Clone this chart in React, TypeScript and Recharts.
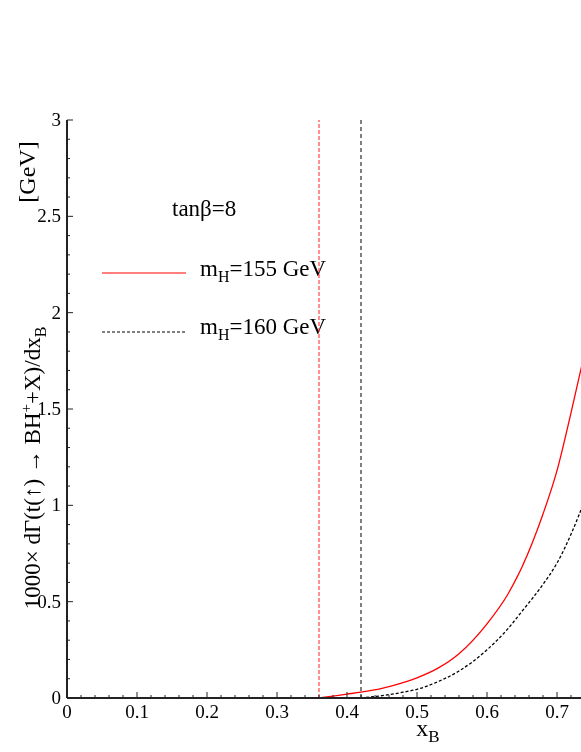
import React from 'react';
import { LineChart, Line, XAxis, YAxis, ReferenceLine, Customized } from 'recharts';

// m_H = 155 GeV curve
const xB155 = [0.36, 0.40, 0.42, 0.45, 0.48, 0.50, 0.53, 0.56, 0.60, 0.63, 0.65, 0.68, 0.70, 0.72, 0.74];
const dG155 = [0, 0.02, 0.03, 0.05, 0.08, 0.105, 0.155, 0.23, 0.385, 0.54, 0.68, 0.955, 1.18, 1.48, 1.80];
// m_H = 160 GeV curve
const xB160 = [0.42, 0.45, 0.48, 0.50, 0.53, 0.56, 0.60, 0.63, 0.65, 0.68, 0.70, 0.72, 0.74];
const dG160 = [0, 0.012, 0.03, 0.045, 0.085, 0.14, 0.25, 0.36, 0.45, 0.59, 0.70, 0.85, 1.03];
// thresholds
const threshold155 = 0.36;
const threshold160 = 0.42;

const xMajorTicks = [0, 0.1, 0.2, 0.3, 0.4, 0.5, 0.6, 0.7, 0.8, 0.9, 1];
const xLabelMax = 0.75;
const yMajorTicks = [0, 0.5, 1, 1.5, 2, 2.5, 3];
const xTicks: number[] = [];
for (let i = 0; i <= 50; i++) xTicks.push(Math.round(i * 2) / 100);
const yTicks: number[] = [];
for (let i = 0; i <= 30; i++) yTicks.push(Math.round(i) / 10);

const data155 = xB155.map((x, i) => ({ x, y: dG155[i] }));
const data160 = xB160.map((x, i) => ({ x, y: dG160[i] }));

const FONT = '"Liberation Serif", "DejaVu Serif", serif';
const AXIS = '#222';

const isMajor = (v: number, list: number[]) => list.some((m) => Math.abs(m - v) < 1e-6);
const fmt = (v: number) => String(Math.round(v * 10) / 10);

const XTickBottom = (props: any) => {
  const { x, y, payload } = props;
  const v = payload.value;
  const major = isMajor(v, xMajorTicks);
  return (
    <g>
      <line x1={x} x2={x} y1={y} y2={y - (major ? 6 : 3)} stroke={AXIS} strokeWidth={1} />
      {major && v <= xLabelMax && (
        <text x={x} y={y + 20} textAnchor="middle" fontSize={19} fontFamily={FONT} fill="#000">
          {fmt(v)}
        </text>
      )}
    </g>
  );
};

const XTickTop = (props: any) => {
  const { x, y, payload } = props;
  const major = isMajor(payload.value, xMajorTicks);
  return <line x1={x} x2={x} y1={y} y2={y + (major ? 6 : 3)} stroke={AXIS} strokeWidth={1} />;
};

const YTickLeft = (props: any) => {
  const { x, y, payload } = props;
  const v = payload.value;
  const major = isMajor(v, yMajorTicks);
  return (
    <g>
      <line x1={x} x2={x + (major ? 6 : 3)} y1={y} y2={y} stroke={AXIS} strokeWidth={1} />
      {major && (
        <text x={x - 6} y={y + 6} textAnchor="end" fontSize={19} fontFamily={FONT} fill="#000">
          {fmt(v)}
        </text>
      )}
    </g>
  );
};

const Annotations = () => (
  <g fontFamily={FONT} fill="#000">
    {/* y-axis label */}
    <text transform="translate(32, 460) rotate(-90)" textAnchor="middle" fontSize={23}>
      1000× dΓ(t(↑) → BH
      <tspan dy={-9} fontSize={15}>+</tspan>
      <tspan dy={9}>+X)/dx</tspan>
      <tspan dy={6} fontSize={16}>B</tspan>
    </text>
    <text transform="translate(27, 164) rotate(-90)" textAnchor="middle" fontSize={24}>
      [GeV]
    </text>
    {/* x-axis label */}
    <text x={420} y={728} textAnchor="middle" fontSize={24}>
      x<tspan dy={6} fontSize={17}>B</tspan>
    </text>
    {/* legend */}
    <text x={164} y={208} fontSize={23}>tanβ=8</text>
    <line x1={94} x2={178} y1={265} y2={265} stroke="#ff0000" strokeWidth={1.2} />
    <text x={192} y={268} fontSize={23}>
      m<tspan dy={6} fontSize={16}>H</tspan>
      <tspan dy={-6}>=155 GeV</tspan>
    </text>
    <line x1={94} x2={178} y1={324} y2={324} stroke="#000" strokeWidth={1.2} strokeDasharray="3 2" />
    <text x={192} y={326} fontSize={23}>
      m<tspan dy={6} fontSize={16}>H</tspan>
      <tspan dy={-6}>=160 GeV</tspan>
    </text>
  </g>
);

export default function App() {
  return (
    <div
      style={{
        position: 'fixed',
        left: 8,
        top: 8,
        width: 573,
        height: 744,
        overflow: 'hidden',
      }}
    >
      <LineChart
        width={800}
        height={744}
        margin={{ top: 112, right: 41, bottom: 0, left: 9 }}
      >
        <XAxis
          xAxisId="b"
          dataKey="x"
          type="number"
          domain={[0, 1]}
          ticks={xTicks}
          interval={0}
          orientation="bottom"
          height={54}
          tickSize={0}
          tickMargin={0}
          tickLine={false}
          axisLine={{ stroke: AXIS, strokeWidth: 2 }}
          tick={<XTickBottom />}
          allowDataOverflow
        />
        <XAxis
          xAxisId="t"
          dataKey="x"
          type="number"
          domain={[0, 1]}
          ticks={xTicks}
          interval={0}
          orientation="top"
          height={0}
          tickSize={0}
          tickMargin={0}
          tickLine={false}
          axisLine={{ stroke: AXIS, strokeWidth: 2 }}
          tick={<XTickTop />}
          allowDataOverflow
        />
        <YAxis
          type="number"
          domain={[0, 3]}
          ticks={yTicks}
          interval={0}
          width={50}
          tickSize={0}
          tickMargin={0}
          tickLine={false}
          axisLine={{ stroke: AXIS, strokeWidth: 2 }}
          tick={<YTickLeft />}
          allowDataOverflow
        />
        <ReferenceLine xAxisId="b" x={threshold155} stroke="#ff4444" strokeWidth={1.2} strokeDasharray="4 2" />
        <ReferenceLine xAxisId="b" x={threshold160} stroke="#000" strokeWidth={1} strokeDasharray="4 3" />
        <Line
          xAxisId="b"
          data={data155}
          dataKey="y"
          type="monotone"
          stroke="#ff0000"
          strokeWidth={1.3}
          dot={false}
          isAnimationActive={false}
        />
        <Line
          xAxisId="b"
          data={data160}
          dataKey="y"
          type="monotone"
          stroke="#000"
          strokeWidth={1.3}
          strokeDasharray="3 2"
          dot={false}
          isAnimationActive={false}
        />
        <Customized component={Annotations} />
      </LineChart>
    </div>
  );
}
